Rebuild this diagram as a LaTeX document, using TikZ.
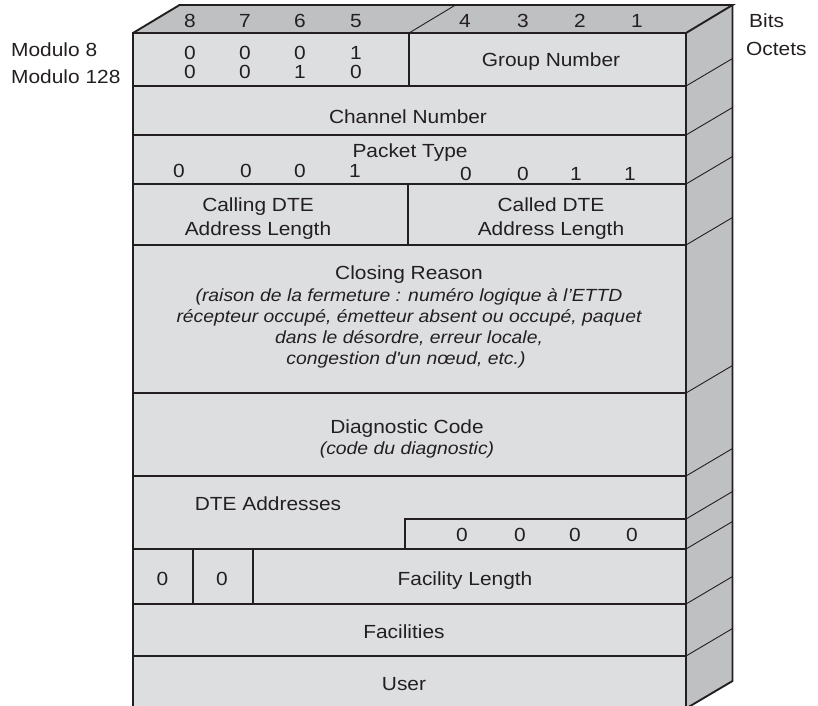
\documentclass[tikz,border=0pt]{standalone}
\usepackage{fontspec}
\setmainfont{Liberation Sans}[FakeStretch=1.1]
\definecolor{facegray}{RGB}{221,222,224}
\definecolor{sidegray}{RGB}{191,192,194}
\definecolor{ink}{RGB}{35,31,32}
\begin{document}
\begin{tikzpicture}[x=1pt,y=-1pt,
  txt/.style={inner sep=0pt, anchor=base, text=ink, font=\fontsize{19}{22}\selectfont},
  itl/.style={inner sep=0pt, anchor=base, text=ink, font=\fontsize{17.6}{20}\selectfont\itshape},
  outer/.style={draw=ink, line width=1.9pt, line join=miter},
  rowline/.style={draw=ink, line width=1.2pt},
  sideline/.style={draw=ink, line width=0.9pt}]
\useasboundingbox (0,0) rectangle (818,705);
\clip (0,0) rectangle (818,705);

% faces
\fill[facegray] (133,33) rectangle (686,712);
\fill[sidegray] (133,33) -- (179.5,5) -- (732.5,5) -- (686,33) -- cycle;
\fill[sidegray] (686,33) -- (732.5,5) -- (732.5,681) -- (686,708.5) -- cycle;

% row lines on the front
\foreach \y in {86,135,184,245,393,476,549,604,656}
  \draw[rowline] (133,\y) -- (686,\y);
% row lines on the side
\foreach \y in {86,135,184,245,393,476,519,549,604,656}
  \draw[sideline] (686,\y) -- ++(46.5,-27.5);
\draw[rowline] (409,33) -- (409,86);
\draw[rowline] (408,184) -- (408,245);
\draw[rowline] (405,549) -- (405,519) -- (686,519);
\draw[rowline] (193,549) -- (193,604);
\draw[rowline] (253,549) -- (253,604);
\draw[sideline] (409,33) -- (455.5,5);

% outer edges
\draw[outer] (133,712) -- (133,33) -- (686,33) -- (686,712);
\draw[outer] (133,33) -- (179.5,5) -- (732.5,5) -- (686,33);
\draw[outer] (732.5,5) -- (732.5,681) -- (686,708.5);

% bit numbers
\foreach \v/\x in {8/190,7/245,6/300,5/356,4/465,3/523,2/580,1/637}
  \node[txt] (h\v) at (\x,27) {\v};
\node[txt, anchor=base west] (bits) at (749,27) {Bits};
\node[txt, anchor=base west] (octets) at (746,55) {Octets};
\node[txt, anchor=base west] (mod8) at (11,56) {Modulo 8};
\node[txt, anchor=base west] (mod128) at (11,83) {Modulo 128};

% octet 1
\foreach \v/\x [count=\i] in {0/190,0/245,0/300,1/356}
  \node[txt] (ma\i) at (\x,59.5) {\v};
\foreach \v/\x [count=\i] in {0/190,0/245,1/300,0/356}
  \node[txt] (mb\i) at (\x,78.5) {\v};
\node[txt] (group) at (551,66) {Group Number};

% octet 2
\node[txt] (channel) at (408,123) {Channel Number};

% octet 3
\node[txt] (ptype) at (410,157.5) {Packet Type};
\foreach \v/\x [count=\i] in {0/179,0/246,0/300,1/355}
  \node[txt] (pa\i) at (\x,177.7) {\v};
\foreach \v/\x [count=\i] in {0/466,0/523,1/576,1/630}
  \node[txt] (pb\i) at (\x,180) {\v};

% octet 4
\node[txt] (calling1) at (258,211) {Calling DTE};
\node[txt] (calling2) at (258,235) {Address Length};
\node[txt] (called1) at (551,211) {Called DTE};
\node[txt] (called2) at (551,235) {Address Length};

% closing reason
\node[txt] (closing) at (409,279) {Closing Reason};
\node[itl] (cl1) at (409,301) {(raison de la fermeture : numéro logique à l’ETTD};
\node[itl] (cl2) at (409,322) {récepteur occupé, émetteur absent ou occupé, paquet};
\node[itl] (cl3) at (409,343) {dans le désordre, erreur locale,};
\node[itl] (cl4) at (406,364) {congestion d\textquotesingle un nœud, etc.)};

% diagnostic
\node[txt] (diag) at (407,433) {Diagnostic Code};
\node[itl] (diag2) at (407,454) {(code du diagnostic)};

% DTE addresses
\node[txt] (dte) at (268,510) {DTE Addresses};
\foreach \x [count=\i] in {462,520,575,632}
  \node[txt] (z\i) at (\x,541.5) {0};

% facility length
\node[txt] (f1) at (162.5,585) {0};
\node[txt] (f2) at (222,585) {0};
\node[txt] (flen) at (465,585) {Facility Length};
\node[txt] (fac) at (404,638) {Facilities};
\node[txt] (user) at (404,690) {User};
\end{tikzpicture}
\end{document}
